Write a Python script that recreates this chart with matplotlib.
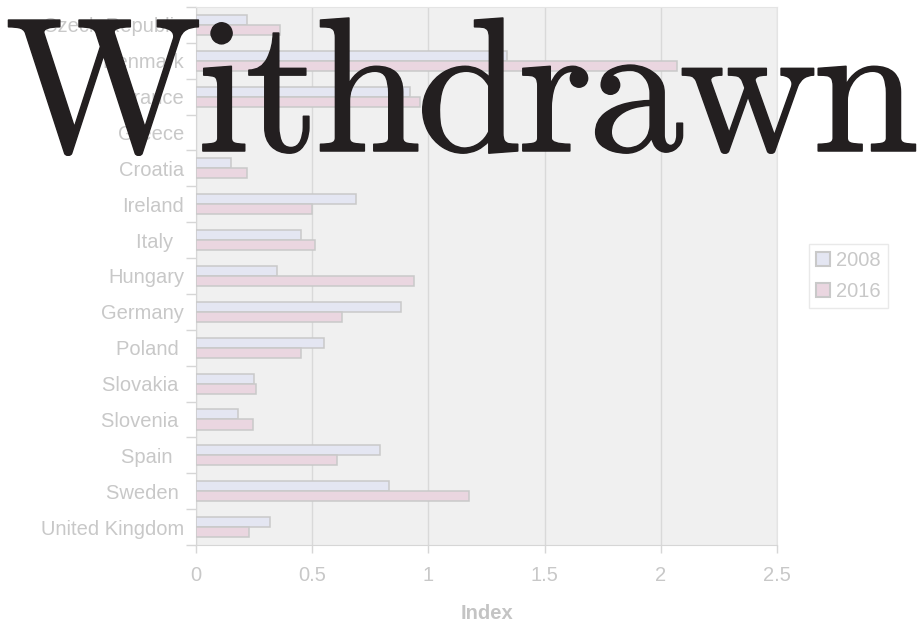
import numpy as np
import matplotlib
matplotlib.use("Agg")
import matplotlib.pyplot as plt
import matplotlib.patheffects as pe
from matplotlib.patches import Patch

plt.rcParams.update({
    "font.family": "Liberation Sans",
    "font.size": 14.5,
})

TEXT_GREY = "#c8c8c8"
EDGE_GREY = "#c9c9c9"
C_2008 = "#e4e6f2"
C_2016 = "#ead6e0"
INK = "#231f20"

countries = ["Czech Republic", "Denmark", "France", "Greece", "Croatia",
             "Ireland", "Italy  ", "Hungary", "Germany", "Poland ",
             "Slovakia ", "Slovenia ", "Spain  ", "Sweden ", "United Kingdom"]
index_2008 = [0.22, 1.34, 0.92, np.nan, 0.15, 0.69, 0.45, 0.35, 0.88, 0.55,
              0.25, 0.18, 0.79, 0.83, 0.32]
index_2016 = [0.36, 2.07, 0.965, np.nan, 0.22, 0.50, 0.51, 0.94, 0.63, 0.45,
              0.26, 0.245, 0.605, 1.175, 0.23]

W, H = 922, 623
fig = plt.figure(figsize=(W / 100, H / 100), dpi=100)
ax = fig.add_axes([196 / W, 1 - 545 / H, 581 / W, 538 / H])
ax.set_facecolor("#f0f0f0")

y = np.arange(len(countries))
h = 0.28
ax.barh(y - 0.14, index_2008, height=h, color=C_2008, edgecolor=EDGE_GREY,
        linewidth=1.1, zorder=3, label="2008")
ax.barh(y + 0.14, index_2016, height=h, color=C_2016, edgecolor=EDGE_GREY,
        linewidth=1.1, zorder=3, label="2016")

ax.set_xlim(0, 2.5)
ax.set_ylim(len(countries) - 0.5, -0.5)
ax.set_xticks([0, 0.5, 1, 1.5, 2, 2.5])
ax.set_xticklabels(["0", "0.5", "1", "1.5", "2", "2.5"])
ax.set_yticks(y)
ax.set_yticklabels(countries)
ax.set_yticks(np.arange(len(countries) + 1) - 0.5, minor=True)

ax.grid(axis="x", color="#d9d9d9", linewidth=1, zorder=0)
ax.tick_params(axis="x", colors="#d6d6d6", labelcolor=TEXT_GREY, length=6, width=1, pad=9)
ax.tick_params(axis="y", which="major", length=0, pad=8.5, labelcolor=TEXT_GREY)
ax.tick_params(axis="y", which="minor", length=7, width=1, colors="#d6d6d6")

for side in ["top", "right"]:
    ax.spines[side].set_color("#e4e4e4")
for side in ["left", "bottom"]:
    ax.spines[side].set_color("#d6d6d6")

ax.set_xlabel("Index", fontweight="bold", color="#c4c4c4", labelpad=14)

handles = [Patch(facecolor=C_2008, edgecolor=EDGE_GREY, linewidth=1.5, label="2008"),
           Patch(facecolor=C_2016, edgecolor=EDGE_GREY, linewidth=1.5, label="2016")]
leg = fig.legend(handles=handles, loc="upper left",
                 bbox_to_anchor=(809 / W, 1 - 244 / H),
                 frameon=True, fancybox=False, borderpad=0.35,
                 handlelength=0.7, handleheight=0.7, handletextpad=0.3,
                 labelspacing=0.6, borderaxespad=0)
leg.get_frame().set_edgecolor("#e4e4e4")
leg.get_frame().set_linewidth(1)
for t in leg.get_texts():
    t.set_color(TEXT_GREY)


# big watermark across the top, letter-spaced to run from x0 to x1 (pixels)
def spaced_text(word, x0, x1, baseline, **kw):
    renderer = fig.canvas.get_renderer()
    chars = [fig.text(0, 1 - baseline / H, ch, ha="left", va="baseline", **kw)
             for ch in word]
    widths = [c.get_window_extent(renderer).width for c in chars]
    gap = (x1 - x0 - sum(widths)) / (len(word) - 1)
    x = x0
    for c, w in zip(chars, widths):
        c.set_x(x / W)
        x += w + gap


spaced_text("Withdrawn", 5, 919, 151, family="cmr10", fontsize=138,
            color=INK, zorder=10,
            path_effects=[pe.withStroke(linewidth=1.1, foreground=INK)])

fig.savefig("out.png", dpi=100)
